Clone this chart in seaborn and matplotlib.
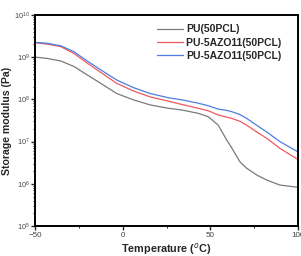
import pandas as pd
import seaborn as sns
import matplotlib
matplotlib.use('Agg')
import matplotlib.pyplot as plt
from matplotlib.ticker import LogLocator, FixedLocator

# temperatures (C)
temp = [-49.4, -43.0, -35.3, -27.8, -20.2, -12.5, -3.4, 6.1, 15.6, 26.0,
        33.7, 43.1, 48.8, 54.5, 59.3, 62.2, 66.9, 70.7, 76.4, 82.1, 89.7, 99.4]

# storage modulus, log10(Pa)
pu_log = [9.00, 8.97, 8.91, 8.78, 8.58, 8.38, 8.14, 7.99, 7.87, 7.79,
          7.75, 7.67, 7.59, 7.39, 7.04, 6.85, 6.52, 6.37, 6.21, 6.09, 5.97, 5.92]
red_log = [9.34, 9.31, 9.25, 9.09, 8.86, 8.64, 8.38, 8.20, 8.06, 7.96,
           7.88, 7.79, 7.73, 7.63, 7.58, 7.55, 7.48, 7.39, 7.23, 7.08, 6.84, 6.59]
blue_log = [9.35, 9.33, 9.27, 9.13, 8.91, 8.70, 8.46, 8.28, 8.14, 8.04,
            7.99, 7.91, 7.85, 7.77, 7.74, 7.71, 7.64, 7.55, 7.39, 7.23, 7.00, 6.77]

labels = ['PU(50PCL)', 'PU-5AZO11(50PCL) ', 'PU-5AZO11(50PCL)']
colors = ['#7a7a7a', '#f0585e', '#4a7fe0']

rows = []
for lab, vals in zip(labels, [pu_log, red_log, blue_log]):
    for t, v in zip(temp, vals):
        rows.append({'Temperature': t, 'Modulus': 10 ** v, 'Sample': lab})
df = pd.DataFrame(rows)

sns.set_style('ticks')
plt.rcParams['font.family'] = ['Liberation Sans', 'DejaVu Sans']
plt.rcParams['mathtext.fontset'] = 'custom'
plt.rcParams['mathtext.rm'] = 'Liberation Sans'
plt.rcParams['mathtext.bf'] = 'Liberation Sans:bold'

fig = plt.figure(figsize=(3.01, 2.56), dpi=100)
ax = fig.add_axes([35 / 301, 30 / 256, 263 / 301, 211 / 256])

sns.lineplot(data=df, x='Temperature', y='Modulus', hue='Sample',
             palette=colors, linewidth=0.9, ax=ax)

ax.set_yscale('log')
ax.set_ylim(1e5, 1e10)
ax.set_xlim(-50, 100)
ax.set_xticks([-50, 0, 50, 100])
ax.xaxis.set_minor_locator(FixedLocator([-25, 25, 75]))
ax.yaxis.set_major_locator(LogLocator(base=10, numticks=10))
ax.yaxis.set_minor_locator(LogLocator(base=10, subs=range(2, 10), numticks=20))

for sp in ax.spines.values():
    sp.set_linewidth(1.4)
    sp.set_color('black')
ax.tick_params(axis='both', which='major', direction='out', length=3,
               width=1.0, labelsize=5.8, labelcolor='#444444', pad=1.5)
ax.tick_params(axis='y', which='major', labelsize=5.3, pad=1)
ax.tick_params(axis='both', which='minor', direction='out', length=1.5, width=0.7)
ax.tick_params(top=False, right=False, which='both')

ax.set_xlabel('Temperature ($^o$C)', fontsize=7.8, fontweight='bold', labelpad=1)
ax.set_ylabel('Storage modulus (Pa)', fontsize=7.6, fontweight='bold', labelpad=1)

ax.legend(loc='upper left', frameon=False,
          prop={'weight': 'bold', 'size': 7.5}, handlelength=2.5,
          handletextpad=0.3, labelspacing=0.3, borderaxespad=0, borderpad=0,
          bbox_to_anchor=(0.464, 0.955))

fig.savefig('out.png', dpi=100)
